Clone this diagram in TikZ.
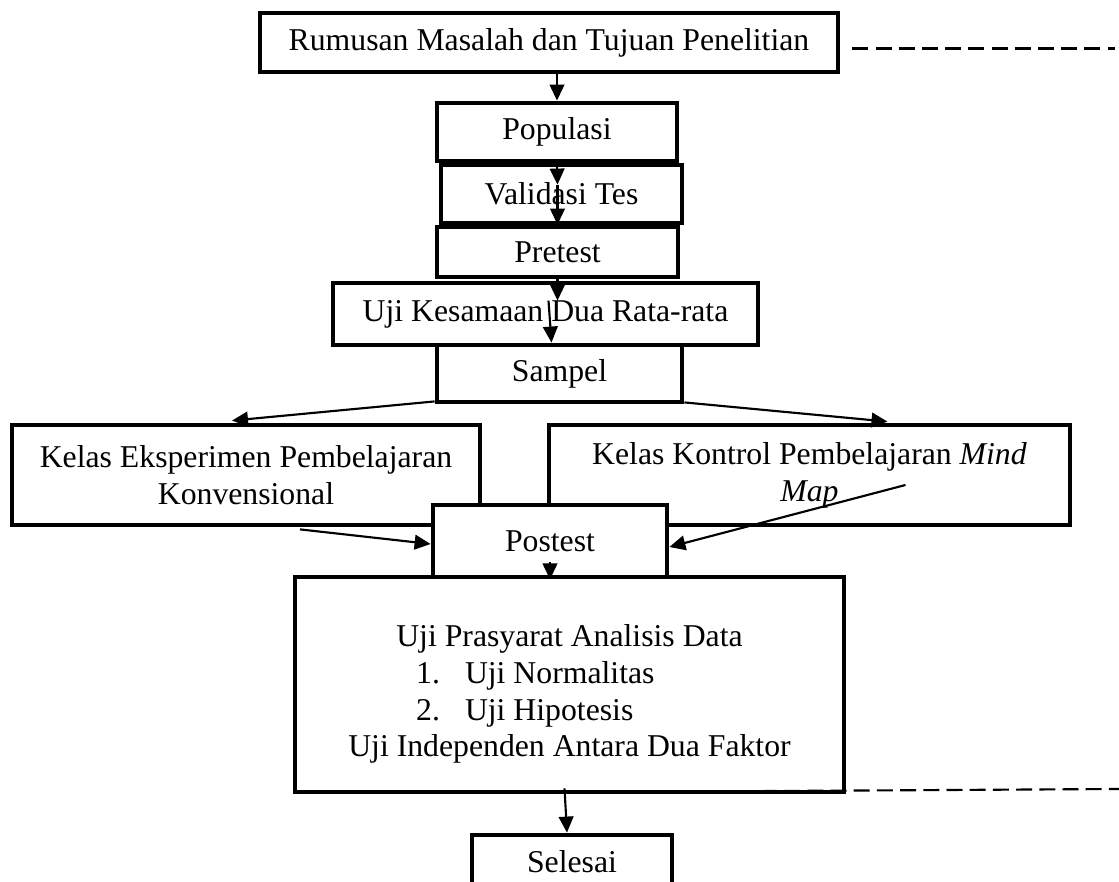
\documentclass[tikz,border=0pt]{standalone}
\usepackage{fontspec}
\setmainfont{Liberation Serif}
\usetikzlibrary{arrows.meta}

\begin{document}
\begin{tikzpicture}[x=0.375pt,y=-0.375pt,
        kotak/.style={draw,line width=1.8pt,fill=white,align=center,inner sep=0pt,font=\fontsize{11.9}{13.8}\selectfont},
        panah/.style={-{Triangle[length=6pt,width=5.5pt]},line width=0.8pt},
        putus/.style={line width=0.8pt,dash pattern=on 6pt off 2.7pt}]
        \useasboundingbox (0,0) rectangle (1119,882);
        \node[kotak,minimum width=216.75pt,minimum height=22.1pt] (rumusan) at (549,42.5) {Rumusan Masalah dan Tujuan Penelitian};
        \node[kotak,minimum width=90pt,minimum height=21.75pt] (populasi) at (557,132) {Populasi};
        \node[kotak,minimum width=90.4pt,minimum height=21.75pt] (validasi) at (561.5,194) {Validasi Tes};
        \node[kotak,minimum width=90.4pt,minimum height=18.75pt] (pretest) at (557.5,252) {\raisebox{-1.5pt}{Pretest}};
        \node[kotak,minimum width=159.4pt,minimum height=23.25pt] (ujisama) at (545.5,314) {Uji Kesamaan Dua Rata-rata};
        \node[kotak,minimum width=91.9pt,minimum height=21.4pt] (sampel) at (559.5,373.5) {Sampel};
        \node[kotak,minimum width=175.5pt,minimum height=37.5pt] (eksp) at (246,475) {Kelas Eksperimen Pembelajaran\\Konvensional};
        \node[kotak,minimum width=195.4pt,minimum height=37.5pt] (kontrol) at (809.5,475) {Kelas Kontrol Pembelajaran \textit{Mind}\\\textit{Map}};
        \node[kotak,minimum width=87.75pt,minimum height=27pt] (postest) at (550,541) {Postest};
        \node[kotak,minimum width=205.9pt,minimum height=80.6pt] (analisis) at (569.5,684.5) {\rule{0pt}{15.5pt}Uji Prasyarat Analisis Data\\
            \makebox[115pt][l]{1.\hspace{9.4pt}Uji Normalitas}\\
            \makebox[115pt][l]{2.\hspace{9.4pt}Uji Hipotesis}\\
            Uji Independen Antara Dua Faktor};
        \node[kotak,minimum width=75pt,minimum height=20.25pt] (selesai) at (572,862) {Selesai};
        % alur utama
        \draw[panah] (rumusan.south -| populasi.north) -- (populasi.north);
        \draw[panah] (populasi.south) -- ([shift={(-4,22)}]validasi.north);
        \draw[panah] ([shift={(-4,22)}]validasi.north) -- (pretest.north);
        \draw[panah] (pretest.south) -- ([shift={(12,20)}]ujisama.north);
        \draw[panah] ([shift={(3,20)}]ujisama.north) -- ([shift={(-8,0)}]sampel.north);
        \draw[panah] ([shift={(0,-3)}]sampel.south west) -- ([shift={(-14,-2)}]eksp.north);
        \draw[panah] ([shift={(0,-2)}]sampel.south east) -- ([shift={(78,-1)}]kontrol.north);
        \draw[panah] ([shift={(54,2)}]eksp.south) -- ([shift={(0,3)}]postest.west);
        \draw[panah] ([shift={(96,10)}]kontrol.center) -- ([shift={(0,6)}]postest.east);
        \draw[panah] ([shift={(0,-17)}]postest.south) -- (postest.south);
        \draw[panah] ([shift={(-5,-6)}]analisis.south) -- ([shift={(-5,0)}]selesai.north);
        % garis putus-putus
        \coordinate (ujungatas) at (1115,48.5);
        \coordinate (ujungbawah) at (1119,789);
        \draw[putus] ([shift={(12,6)}]rumusan.east) -- (ujungatas);
        \draw[putus] ([shift={(145,-3)}]analisis.south) -- (ujungbawah);
\end{tikzpicture}
\end{document}
